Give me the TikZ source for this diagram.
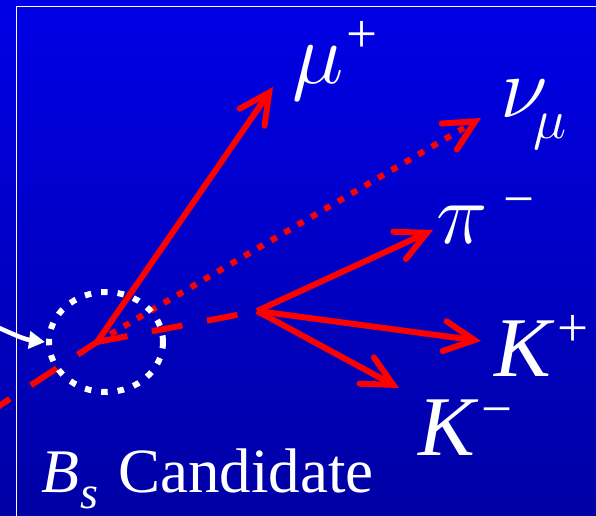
\RequirePackage{fix-cm}
\documentclass[tikz,border=0pt]{standalone}
\usepackage{fontspec}
\setmainfont{Liberation Serif}
\usetikzlibrary{arrows.meta}
\definecolor{bgtop}{RGB}{0,0,230}
\definecolor{bgmid}{RGB}{0,0,220}
\definecolor{bgbot}{RGB}{0,0,165}
\definecolor{trackred}{RGB}{255,0,0}
\begin{document}
\begin{tikzpicture}[x=1pt,y=-1pt,
  track/.style={draw=trackred, line width=6pt},
  tiptrack/.style={track, -{Straight Barb[length=30pt,width=30pt,line cap=round,line join=miter]}},
  dashtrack/.style={track, dash pattern=on 31pt off 25pt},
  dottrack/.style={tiptrack, dash pattern=on 6.5pt off 9pt},
  biglbl/.style={text=white, inner sep=0pt, anchor=base west, font=\fontsize{85}{90}\selectfont\itshape},
  greeklbl/.style={text=white, inner sep=0pt, anchor=base west, font=\fontsize{87}{90}\selectfont},
  smallgreek/.style={text=white, inner sep=0pt, anchor=base west, font=\fontsize{56}{60}\selectfont},
  smalllbl/.style={text=white, inner sep=0pt, anchor=base west, font=\fontsize{55}{60}\selectfont},
  caption/.style={text=white, inner sep=0pt, anchor=base west, font=\fontsize{63}{66}\selectfont},
  vtxring/.style={draw=white, line width=6pt, dash pattern=on 6.5pt off 10pt},
  pointer/.style={draw=white, line width=4.5pt, -{Triangle[length=16pt,width=17pt]}}
]
\useasboundingbox (0,0) rectangle (596,515);
\shade[top color=bgtop, middle color=bgmid, bottom color=bgbot] (0,0) rectangle (596,515);
\draw[white, line width=1.3pt] (16.5,6.5) rectangle (620,540);

% vertices and tips
\coordinate (V) at (97,342);
\coordinate (D) at (257,311);
\coordinate (Bin) at (-30,425);
\coordinate (mutip) at (273,87);
\coordinate (nutip) at (481,118);
\coordinate (pitip) at (433,230);
\coordinate (Kptip) at (481,341);
\coordinate (Kmtip) at (399,388);

% tracks
\draw[dashtrack, dash phase=8pt] (V) -- (Bin);
\draw[dashtrack] (V) -- (D);
\draw[tiptrack] (V) -- (mutip);
\draw[dottrack] (V) -- (nutip);
\draw[tiptrack] (D) -- (pitip);
\draw[tiptrack] (D) -- (Kptip);
\draw[tiptrack] (D) -- (Kmtip);

% vertex ring and pointer
\draw[vtxring] (106,342) ellipse [x radius=57pt, y radius=50pt];
\coordinate (ps) at (-15,322);
\coordinate (pe) at (45,342);
\draw[pointer] (ps) .. controls (5,330) and (22,339) .. (pe);

% labels
\node[greeklbl] (mu) at (292,83) {$\mu$};
\node[smalllbl] (muplus) at (346,52) {+};
\node[greeklbl] (nu) at (500,117) {$\nu$};
\node[smallgreek] (nusub) at (533,138) {$\mu$};
\node[greeklbl] (pi) at (436,243) {$\pi$};
\node[smalllbl] (piminus) at (503,217) {−};
\node[biglbl] (Kp) at (494,376) {K};
\node[smalllbl] (Kpplus) at (557,346) {+};
\node[biglbl] (Km) at (418,455) {K};
\node[smalllbl] (Kmminus) at (481,427) {−};
\node[caption, font=\fontsize{62}{66}\selectfont\itshape] (B) at (41,492) {B};
\node[caption, font=\fontsize{46}{50}\selectfont\itshape, text depth=0pt] (Bs) at (80,508) {s};
\node[caption] (cand) at (118,492) {Candidate};
\end{tikzpicture}
\end{document}
